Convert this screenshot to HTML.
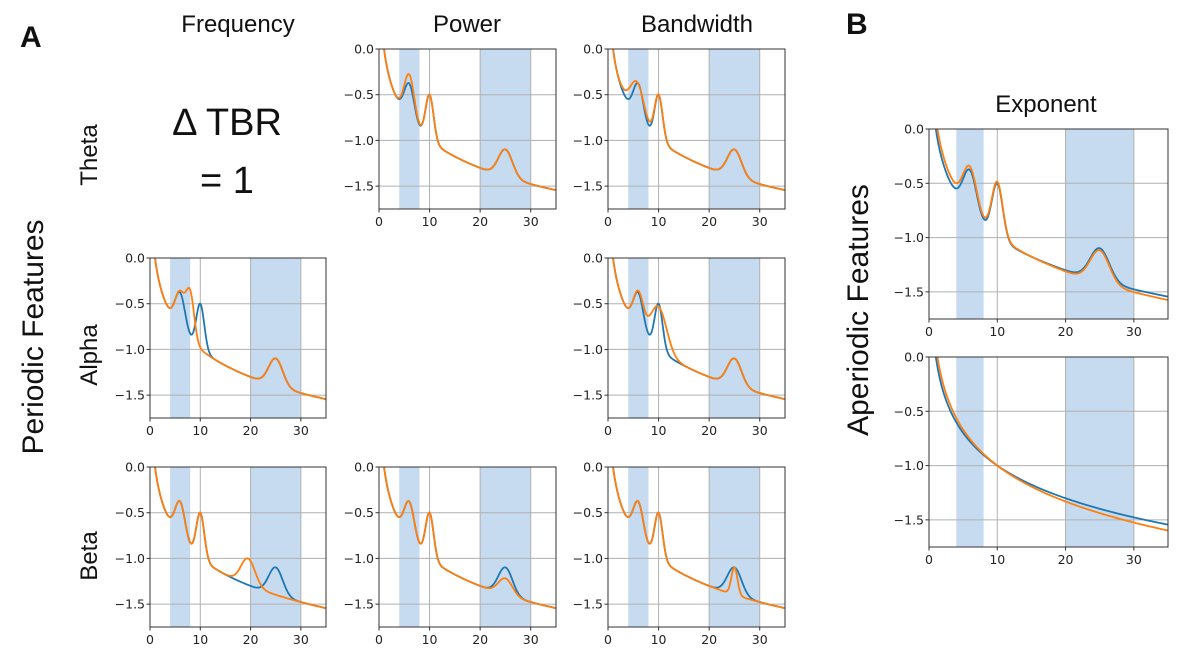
<!DOCTYPE html>
<html><head><meta charset="utf-8"><style>
body{margin:0;background:#fff}
svg{display:block}
.t{font-family:"Liberation Sans",sans-serif;fill:#111}
.tk{font-family:"DejaVu Sans",sans-serif;font-size:12.5px;fill:#222}
</style></head><body>
<svg id="fig" width="1200" height="662" viewBox="0 0 1200 662" xmlns="http://www.w3.org/2000/svg">
<text class="t" x="20" y="47" font-size="30" font-weight="bold">A</text>
<text class="t" x="846" y="34" font-size="30" font-weight="bold">B</text>
<text class="t" x="238" y="32" font-size="24" text-anchor="middle">Frequency</text>
<text class="t" x="467" y="32" font-size="24" text-anchor="middle">Power</text>
<text class="t" x="697" y="32" font-size="24" text-anchor="middle">Bandwidth</text>
<text class="t" x="1046" y="112" font-size="24" text-anchor="middle">Exponent</text>
<text class="t" x="227" y="135" font-size="38" text-anchor="middle">Δ TBR</text>
<text class="t" x="227" y="193" font-size="38" text-anchor="middle">= 1</text>
<text class="t" font-size="30" text-anchor="middle" transform="translate(43,337) rotate(-90)">Periodic Features</text>
<text class="t" font-size="30" text-anchor="middle" transform="translate(868,310) rotate(-90)">Aperiodic Features</text>
<text class="t" font-size="24" text-anchor="middle" transform="translate(97,155) rotate(-90)">Theta</text>
<text class="t" font-size="24" text-anchor="middle" transform="translate(97,355) rotate(-90)">Alpha</text>
<text class="t" font-size="24" text-anchor="middle" transform="translate(97,556) rotate(-90)">Beta</text>
<g id="plots"></g>
</svg>
<script>
// tick labels
const xTicks = [0, 10, 20, 30];
const yTicks = [0, -0.5, -1, -1.5];
const yTickLabels = ["0.0", "\u22120.5", "\u22121.0", "\u22121.5"];
const bands = [[4, 8], [20, 30]];
// spectra parameters: [offset, exponent], peaks [center, height, sd]
const blueAp = [0, 1];
const bluePeaks = [[6, 0.4, 1.0], [10, 0.5, 0.8], [25, 0.3, 1.4]];
const panelNames = ["theta-power","theta-bandwidth","alpha-frequency","alpha-bandwidth","beta-frequency","beta-power","beta-bandwidth","exponent-periodic","exponent-aperiodic"];
const orangeAps = [[0,1],[0,1],[0,1],[0,1],[0,1],[0,1],[0,1],[0.1,1.085],[0.1,1.1]];
const orangePeaks = [
 [[6,0.5,1.0],[10,0.5,0.8],[25,0.3,1.4]],
 [[5.8,0.4,1.35],[10,0.5,0.8],[25,0.3,1.4]],
 [[6,0.4,1.0],[8,0.5,0.8],[25,0.3,1.4]],
 [[6,0.4,1.0],[10,0.47,1.6],[25,0.3,1.4]],
 [[6,0.4,1.0],[10,0.5,0.8],[19.5,0.29,1.4]],
 [[6,0.4,1.0],[10,0.5,0.8],[25,0.18,1.4]],
 [[6,0.4,1.0],[10,0.5,0.8],[25,0.3,0.6]],
 [[6,0.4,1.0],[10,0.5,0.8],[25,0.3,1.4]],
 []
];
const bluePeaksPerPanel = [bluePeaks,bluePeaks,bluePeaks,bluePeaks,bluePeaks,bluePeaks,bluePeaks,bluePeaks,[]];
// layout
const boxes = [[379,49,177,160],[608,49,177,160],[150,258,176,160],[608,258,177,160],[150,467,176,160],[379,467,177,160],[608,467,177,160],[929,129,239,190],[929,357,239,190]];
const NS = "http://www.w3.org/2000/svg";
const root = document.getElementById("plots");
function mk(tag, attrs, parent){const e=document.createElementNS(NS,tag);for(const k in attrs)e.setAttribute(k,attrs[k]);parent.appendChild(e);return e;}
function spec(f, ap, peaks){let y=ap[0]-ap[1]*Math.log10(f);for(const p of peaks)y+=p[1]*Math.exp(-Math.pow(f-p[0],2)/(2*p[2]*p[2]));return y;}
boxes.forEach((b, i) => {
  const [L,T,W,H] = b;
  const ymin = -1.75;
  const x = v => L + v/35*W;
  const y = v => T + (0 - v)/(0 - ymin)*H;
  const g = mk("g", {}, root);
  
  
  const cid = "clip"+i;
  const cp = mk("clipPath",{id:cid},g); mk("rect",{x:L,y:T,width:W,height:H},cp);
  bands.forEach(bd => {
    const r = mk("rect",{x:x(bd[0]),y:T,width:x(bd[1])-x(bd[0]),height:H,fill:"#c6dbef"},g);
    
    
  });
  xTicks.forEach(t => {
    if (t>0) { const l = mk("line",{x1:x(t),x2:x(t),y1:T,y2:T+H,stroke:"#b0b0b0","stroke-width":1},g);
        }
    mk("line",{x1:x(t),x2:x(t),y1:T+H,y2:T+H+3.5,stroke:"#333"},g);
    const tx = mk("text",{x:x(t),y:T+H+17,"text-anchor":"middle",class:"tk"},g); tx.textContent=t;
     
  });
  yTicks.forEach((t,k) => {
    if (t<0) { const l = mk("line",{x1:L,x2:L+W,y1:y(t),y2:y(t),stroke:"#b0b0b0","stroke-width":1},g);
        }
    mk("line",{x1:L-3.5,x2:L,y1:y(t),y2:y(t),stroke:"#333"},g);
    const tx = mk("text",{x:L-5,y:y(t)+4.5,"text-anchor":"end",class:"tk"},g); tx.textContent=yTickLabels[k];
     
  });
  [[blueAp,bluePeaksPerPanel[i],"#1f77b4","blue"],[orangeAps[i],orangePeaks[i],"#ff7f0e","orange"]].forEach(s => {
    let d="";
    for (let f=0.8; f<=35.001; f+=0.1) d += (d?"L":"M") + x(f).toFixed(2)+","+y(spec(f,s[0],s[1])).toFixed(2);
    const p = mk("path",{d:d,fill:"none",stroke:s[2],"stroke-width":1.8,"clip-path":"url(#"+cid+")"},g);
    
    
  });
  const fr = mk("rect",{x:L,y:T,width:W,height:H,fill:"none",stroke:"#333","stroke-width":1},g);
  
  
});
</script>
</body></html>
